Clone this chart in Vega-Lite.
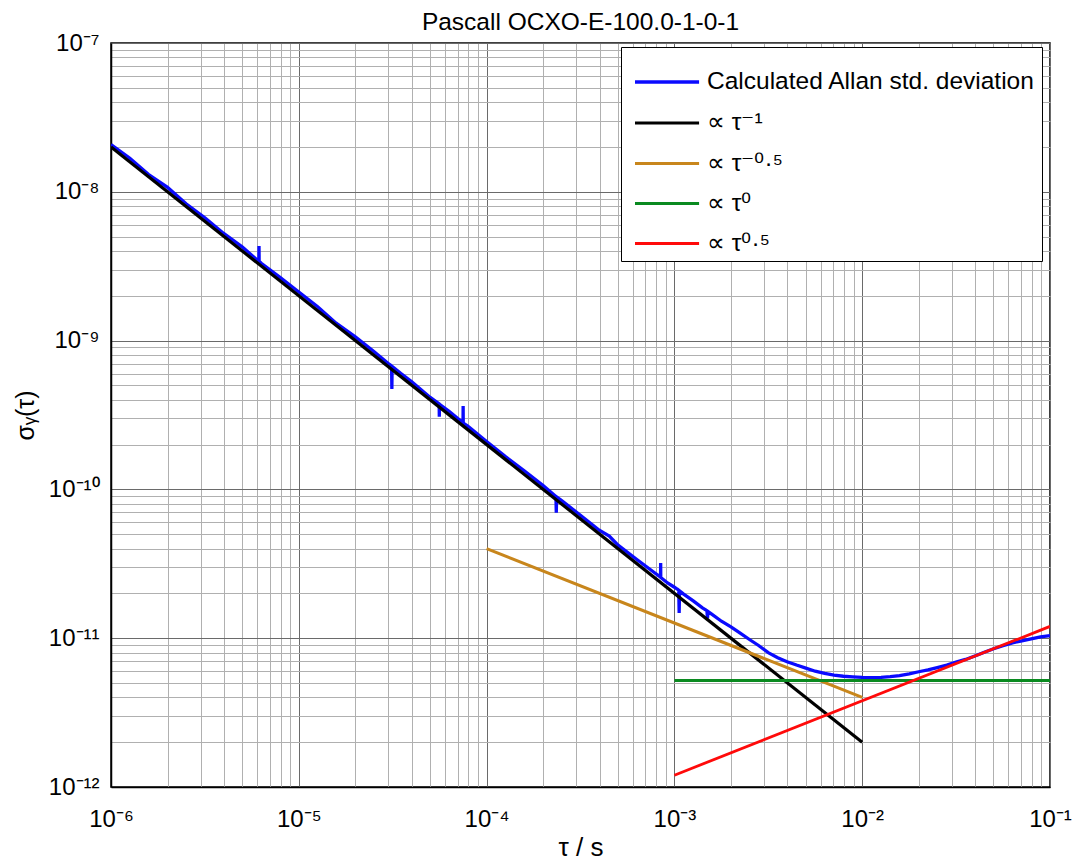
{
  "$schema": "https://vega.github.io/schema/vega-lite/v6.json",
  "width": 939,
  "height": 744,
  "autosize": {"type": "none"},
  "padding": {"left": 111, "top": 43, "right": 23, "bottom": 76},
  "background": "white",
  "config": {
    "font": "Liberation Sans",
    "view": {"stroke": "#000000", "strokeWidth": 1.5}
  },
  "title": {
    "text": "Pascall OCXO-E-100.0-1-0-1",
    "font": "Liberation Sans",
    "fontSize": 24.5,
    "fontWeight": "normal",
    "color": "#000000",
    "anchor": "middle",
    "offset": -4
  },
  "data": {
    "values": [
      {"series": "Calculated Allan std. deviation", "tau": 1e-6, "sigma": 2.08e-8},
      {"series": "Calculated Allan std. deviation", "tau": 1.26e-6, "sigma": 1.68e-8},
      {"series": "Calculated Allan std. deviation", "tau": 1.58e-6, "sigma": 1.31e-8},
      {"series": "Calculated Allan std. deviation", "tau": 2.0e-6, "sigma": 1.07e-8},
      {"series": "Calculated Allan std. deviation", "tau": 2.51e-6, "sigma": 8.3e-9},
      {"series": "Calculated Allan std. deviation", "tau": 3.16e-6, "sigma": 6.7e-9},
      {"series": "Calculated Allan std. deviation", "tau": 3.98e-6, "sigma": 5.25e-9},
      {"series": "Calculated Allan std. deviation", "tau": 5.01e-6, "sigma": 4.25e-9},
      {"series": "Calculated Allan std. deviation", "tau": 6.0e-6, "sigma": 3.48e-9},
      {"series": "Calculated Allan std. deviation", "tau": 6.13e-6, "sigma": 3.42e-9},
      {"series": "Calculated Allan std. deviation", "tau": 6.14e-6, "sigma": 4.33e-9},
      {"series": "Calculated Allan std. deviation", "tau": 6.15e-6, "sigma": 3.41e-9},
      {"series": "Calculated Allan std. deviation", "tau": 6.31e-6, "sigma": 3.31e-9},
      {"series": "Calculated Allan std. deviation", "tau": 7.94e-6, "sigma": 2.66e-9},
      {"series": "Calculated Allan std. deviation", "tau": 1.0e-5, "sigma": 2.12e-9},
      {"series": "Calculated Allan std. deviation", "tau": 1.26e-5, "sigma": 1.69e-9},
      {"series": "Calculated Allan std. deviation", "tau": 1.58e-5, "sigma": 1.31e-9},
      {"series": "Calculated Allan std. deviation", "tau": 2.0e-5, "sigma": 1.06e-9},
      {"series": "Calculated Allan std. deviation", "tau": 2.51e-5, "sigma": 8.45e-10},
      {"series": "Calculated Allan std. deviation", "tau": 3.12e-5, "sigma": 6.72e-10},
      {"series": "Calculated Allan std. deviation", "tau": 3.13e-5, "sigma": 4.73e-10},
      {"series": "Calculated Allan std. deviation", "tau": 3.14e-5, "sigma": 6.7e-10},
      {"series": "Calculated Allan std. deviation", "tau": 3.5e-5, "sigma": 6.0e-10},
      {"series": "Calculated Allan std. deviation", "tau": 3.98e-5, "sigma": 5.3e-10},
      {"series": "Calculated Allan std. deviation", "tau": 5.01e-5, "sigma": 4.15e-10},
      {"series": "Calculated Allan std. deviation", "tau": 5.59e-5, "sigma": 3.76e-10},
      {"series": "Calculated Allan std. deviation", "tau": 5.6e-5, "sigma": 3.08e-10},
      {"series": "Calculated Allan std. deviation", "tau": 5.61e-5, "sigma": 3.74e-10},
      {"series": "Calculated Allan std. deviation", "tau": 6.31e-5, "sigma": 3.35e-10},
      {"series": "Calculated Allan std. deviation", "tau": 7.49e-5, "sigma": 2.8e-10},
      {"series": "Calculated Allan std. deviation", "tau": 7.5e-5, "sigma": 3.63e-10},
      {"series": "Calculated Allan std. deviation", "tau": 7.51e-5, "sigma": 2.79e-10},
      {"series": "Calculated Allan std. deviation", "tau": 7.94e-5, "sigma": 2.66e-10},
      {"series": "Calculated Allan std. deviation", "tau": 1.0e-4, "sigma": 2.1e-10},
      {"series": "Calculated Allan std. deviation", "tau": 1.26e-4, "sigma": 1.66e-10},
      {"series": "Calculated Allan std. deviation", "tau": 1.58e-4, "sigma": 1.34e-10},
      {"series": "Calculated Allan std. deviation", "tau": 2.0e-4, "sigma": 1.06e-10},
      {"series": "Calculated Allan std. deviation", "tau": 2.34e-4, "sigma": 8.97e-11},
      {"series": "Calculated Allan std. deviation", "tau": 2.35e-4, "sigma": 6.97e-11},
      {"series": "Calculated Allan std. deviation", "tau": 2.36e-4, "sigma": 8.9e-11},
      {"series": "Calculated Allan std. deviation", "tau": 2.51e-4, "sigma": 8.4e-11},
      {"series": "Calculated Allan std. deviation", "tau": 3.16e-4, "sigma": 6.7e-11},
      {"series": "Calculated Allan std. deviation", "tau": 3.98e-4, "sigma": 5.32e-11},
      {"series": "Calculated Allan std. deviation", "tau": 4.5e-4, "sigma": 4.85e-11},
      {"series": "Calculated Allan std. deviation", "tau": 5.01e-4, "sigma": 4.22e-11},
      {"series": "Calculated Allan std. deviation", "tau": 6.31e-4, "sigma": 3.38e-11},
      {"series": "Calculated Allan std. deviation", "tau": 7.94e-4, "sigma": 2.72e-11},
      {"series": "Calculated Allan std. deviation", "tau": 8.44e-4, "sigma": 2.57e-11},
      {"series": "Calculated Allan std. deviation", "tau": 8.45e-4, "sigma": 3.2e-11},
      {"series": "Calculated Allan std. deviation", "tau": 8.46e-4, "sigma": 2.56e-11},
      {"series": "Calculated Allan std. deviation", "tau": 9.2e-4, "sigma": 2.35e-11},
      {"series": "Calculated Allan std. deviation", "tau": 1.0e-3, "sigma": 2.2e-11},
      {"series": "Calculated Allan std. deviation", "tau": 1.055e-3, "sigma": 2.1e-11},
      {"series": "Calculated Allan std. deviation", "tau": 1.06e-3, "sigma": 1.48e-11},
      {"series": "Calculated Allan std. deviation", "tau": 1.065e-3, "sigma": 2.08e-11},
      {"series": "Calculated Allan std. deviation", "tau": 1.12e-3, "sigma": 1.98e-11},
      {"series": "Calculated Allan std. deviation", "tau": 1.26e-3, "sigma": 1.78e-11},
      {"series": "Calculated Allan std. deviation", "tau": 1.41e-3, "sigma": 1.6e-11},
      {"series": "Calculated Allan std. deviation", "tau": 1.49e-3, "sigma": 1.53e-11},
      {"series": "Calculated Allan std. deviation", "tau": 1.5e-3, "sigma": 1.36e-11},
      {"series": "Calculated Allan std. deviation", "tau": 1.51e-3, "sigma": 1.51e-11},
      {"series": "Calculated Allan std. deviation", "tau": 1.58e-3, "sigma": 1.45e-11},
      {"series": "Calculated Allan std. deviation", "tau": 1.78e-3, "sigma": 1.3e-11},
      {"series": "Calculated Allan std. deviation", "tau": 2.0e-3, "sigma": 1.19e-11},
      {"series": "Calculated Allan std. deviation", "tau": 2.24e-3, "sigma": 1.08e-11},
      {"series": "Calculated Allan std. deviation", "tau": 2.51e-3, "sigma": 9.8e-12},
      {"series": "Calculated Allan std. deviation", "tau": 2.82e-3, "sigma": 8.9e-12},
      {"series": "Calculated Allan std. deviation", "tau": 3.16e-3, "sigma": 8.0e-12},
      {"series": "Calculated Allan std. deviation", "tau": 3.55e-3, "sigma": 7.4e-12},
      {"series": "Calculated Allan std. deviation", "tau": 3.98e-3, "sigma": 6.95e-12},
      {"series": "Calculated Allan std. deviation", "tau": 4.47e-3, "sigma": 6.6e-12},
      {"series": "Calculated Allan std. deviation", "tau": 5.01e-3, "sigma": 6.3e-12},
      {"series": "Calculated Allan std. deviation", "tau": 5.62e-3, "sigma": 6.0e-12},
      {"series": "Calculated Allan std. deviation", "tau": 6.31e-3, "sigma": 5.8e-12},
      {"series": "Calculated Allan std. deviation", "tau": 7.08e-3, "sigma": 5.65e-12},
      {"series": "Calculated Allan std. deviation", "tau": 7.94e-3, "sigma": 5.55e-12},
      {"series": "Calculated Allan std. deviation", "tau": 8.91e-3, "sigma": 5.5e-12},
      {"series": "Calculated Allan std. deviation", "tau": 1.0e-2, "sigma": 5.45e-12},
      {"series": "Calculated Allan std. deviation", "tau": 1.12e-2, "sigma": 5.44e-12},
      {"series": "Calculated Allan std. deviation", "tau": 1.26e-2, "sigma": 5.46e-12},
      {"series": "Calculated Allan std. deviation", "tau": 1.41e-2, "sigma": 5.52e-12},
      {"series": "Calculated Allan std. deviation", "tau": 1.58e-2, "sigma": 5.6e-12},
      {"series": "Calculated Allan std. deviation", "tau": 1.78e-2, "sigma": 5.75e-12},
      {"series": "Calculated Allan std. deviation", "tau": 2.0e-2, "sigma": 5.95e-12},
      {"series": "Calculated Allan std. deviation", "tau": 2.24e-2, "sigma": 6.12e-12},
      {"series": "Calculated Allan std. deviation", "tau": 2.51e-2, "sigma": 6.35e-12},
      {"series": "Calculated Allan std. deviation", "tau": 2.82e-2, "sigma": 6.6e-12},
      {"series": "Calculated Allan std. deviation", "tau": 3.16e-2, "sigma": 6.9e-12},
      {"series": "Calculated Allan std. deviation", "tau": 3.55e-2, "sigma": 7.2e-12},
      {"series": "Calculated Allan std. deviation", "tau": 3.98e-2, "sigma": 7.6e-12},
      {"series": "Calculated Allan std. deviation", "tau": 4.47e-2, "sigma": 8.05e-12},
      {"series": "Calculated Allan std. deviation", "tau": 5.01e-2, "sigma": 8.5e-12},
      {"series": "Calculated Allan std. deviation", "tau": 5.62e-2, "sigma": 8.9e-12},
      {"series": "Calculated Allan std. deviation", "tau": 6.31e-2, "sigma": 9.3e-12},
      {"series": "Calculated Allan std. deviation", "tau": 7.08e-2, "sigma": 9.6e-12},
      {"series": "Calculated Allan std. deviation", "tau": 7.94e-2, "sigma": 9.9e-12},
      {"series": "Calculated Allan std. deviation", "tau": 8.91e-2, "sigma": 1.02e-11},
      {"series": "Calculated Allan std. deviation", "tau": 1.0e-1, "sigma": 1.04e-11},
      {"series": "∝ τ⁻¹", "tau": 1e-6, "sigma": 2e-8},
      {"series": "∝ τ⁻¹", "tau": 1e-2, "sigma": 2e-12},
      {"series": "∝ τ⁻⁰·⁵", "tau": 1e-4, "sigma": 4e-11},
      {"series": "∝ τ⁻⁰·⁵", "tau": 1e-2, "sigma": 4e-12},
      {"series": "∝ τ⁰", "tau": 1e-3, "sigma": 5.2e-12},
      {"series": "∝ τ⁰", "tau": 1e-1, "sigma": 5.2e-12},
      {"series": "∝ τ⁰·⁵", "tau": 1e-3, "sigma": 1.2e-12},
      {"series": "∝ τ⁰·⁵", "tau": 1e-1, "sigma": 1.2e-11}
    ]
  },
  "mark": {"type": "line", "clip": true},
  "encoding": {
    "x": {
      "field": "tau",
      "type": "quantitative",
      "scale": {"type": "log", "domain": [1e-6, 0.1], "nice": false},
      "axis": {
        "title": "τ / s",
        "titleFont": "Liberation Sans",
        "titleFontSize": 26,
        "titleFontWeight": "normal",
        "titleColor": "#000000",
        "titlePadding": 3,
        "values": [1e-6, 2e-6, 3e-6, 4e-6, 5e-6, 6e-6, 7e-6, 8e-6, 9e-6, 1e-5, 2e-5, 3e-5, 4e-5, 5e-5, 6e-5, 7e-5, 8e-5, 9e-5, 1e-4, 2e-4, 3e-4, 4e-4, 5e-4, 6e-4, 7e-4, 8e-4, 9e-4, 1e-3, 2e-3, 3e-3, 4e-3, 5e-3, 6e-3, 7e-3, 8e-3, 9e-3, 1e-2, 2e-2, 3e-2, 4e-2, 5e-2, 6e-2, 7e-2, 8e-2, 9e-2, 1e-1],
        "labelExpr": "datum.value == 1e-6 ? '10⁻⁶' : datum.value == 1e-5 ? '10⁻⁵' : datum.value == 1e-4 ? '10⁻⁴' : datum.value == 1e-3 ? '10⁻³' : datum.value == 1e-2 ? '10⁻²' : datum.value == 1e-1 ? '10⁻¹' : ''",
        "labelFont": "Liberation Sans",
        "labelFontSize": 24,
        "labelColor": "#000000",
        "labelPadding": 20,
        "labelOverlap": false,
        "labelBound": false,
        "labelFlush": false,
        "ticks": false,
        "domain": true,
        "domainColor": "#000000",
        "domainWidth": 1.5,
        "grid": true,
        "gridColor": {"condition": {"test": "abs(log(datum.value)/LN10 - round(log(datum.value)/LN10)) < 0.01", "value": "#6a6a6a"}, "value": "#b0b0b0"},
        "gridWidth": 1
      }
    },
    "y": {
      "field": "sigma",
      "type": "quantitative",
      "scale": {"type": "log", "domain": [1e-12, 1e-7], "nice": false},
      "axis": {
        "title": "σᵧ(τ)",
        "titleFont": "Liberation Sans",
        "titleFontSize": 25,
        "titleFontWeight": "normal",
        "titleColor": "#000000",
        "titlePadding": 10,
        "values": [1e-12, 2e-12, 3e-12, 4e-12, 5e-12, 6e-12, 7e-12, 8e-12, 9e-12, 1e-11, 2e-11, 3e-11, 4e-11, 5e-11, 6e-11, 7e-11, 8e-11, 9e-11, 1e-10, 2e-10, 3e-10, 4e-10, 5e-10, 6e-10, 7e-10, 8e-10, 9e-10, 1e-9, 2e-9, 3e-9, 4e-9, 5e-9, 6e-9, 7e-9, 8e-9, 9e-9, 1e-8, 2e-8, 3e-8, 4e-8, 5e-8, 6e-8, 7e-8, 8e-8, 9e-8, 1e-7],
        "labelExpr": "datum.value == 1e-12 ? '10⁻¹²' : datum.value == 1e-11 ? '10⁻¹¹' : datum.value == 1e-10 ? '10⁻¹⁰' : datum.value == 1e-9 ? '10⁻⁹' : datum.value == 1e-8 ? '10⁻⁸' : datum.value == 1e-7 ? '10⁻⁷' : ''",
        "labelFont": "Liberation Sans",
        "labelFontSize": 24,
        "labelColor": "#000000",
        "labelPadding": 12,
        "labelOverlap": false,
        "labelBound": false,
        "labelFlush": false,
        "ticks": false,
        "domain": true,
        "domainColor": "#000000",
        "domainWidth": 1.5,
        "grid": true,
        "gridColor": {"condition": {"test": "abs(log(datum.value)/LN10 - round(log(datum.value)/LN10)) < 0.01", "value": "#6a6a6a"}, "value": "#b0b0b0"},
        "gridWidth": 1
      }
    },
    "color": {
      "field": "series",
      "type": "nominal",
      "scale": {
        "domain": ["Calculated Allan std. deviation", "∝ τ⁻¹", "∝ τ⁻⁰·⁵", "∝ τ⁰", "∝ τ⁰·⁵"],
        "range": ["#0a0aff", "#000000", "#c8861c", "#0a8a20", "#ff0a0a"]
      },
      "legend": {
        "title": null,
        "orient": "none",
        "legendX": 510,
        "legendY": 4,
        "fillColor": "#ffffff",
        "strokeColor": "#000000",
        "padding": 6,
        "symbolType": "M-0.78,0H1.6",
        "symbolSize": 2900,
        "symbolStrokeWidth": 3,
        "symbolFillColor": "transparent",
        "labelFont": "Liberation Sans",
        "labelFontSize": 24.5,
        "labelColor": "#000000",
        "labelOffset": 22,
        "labelLimit": 400,
        "rowPadding": 0
      }
    },
    "strokeWidth": {
      "field": "series",
      "type": "ordinal",
      "scale": {
        "domain": ["Calculated Allan std. deviation", "∝ τ⁻¹", "∝ τ⁻⁰·⁵", "∝ τ⁰", "∝ τ⁰·⁵"],
        "range": [3.3, 2.8, 2.6, 2.8, 2.6]
      },
      "legend": null
    }
  }
}
